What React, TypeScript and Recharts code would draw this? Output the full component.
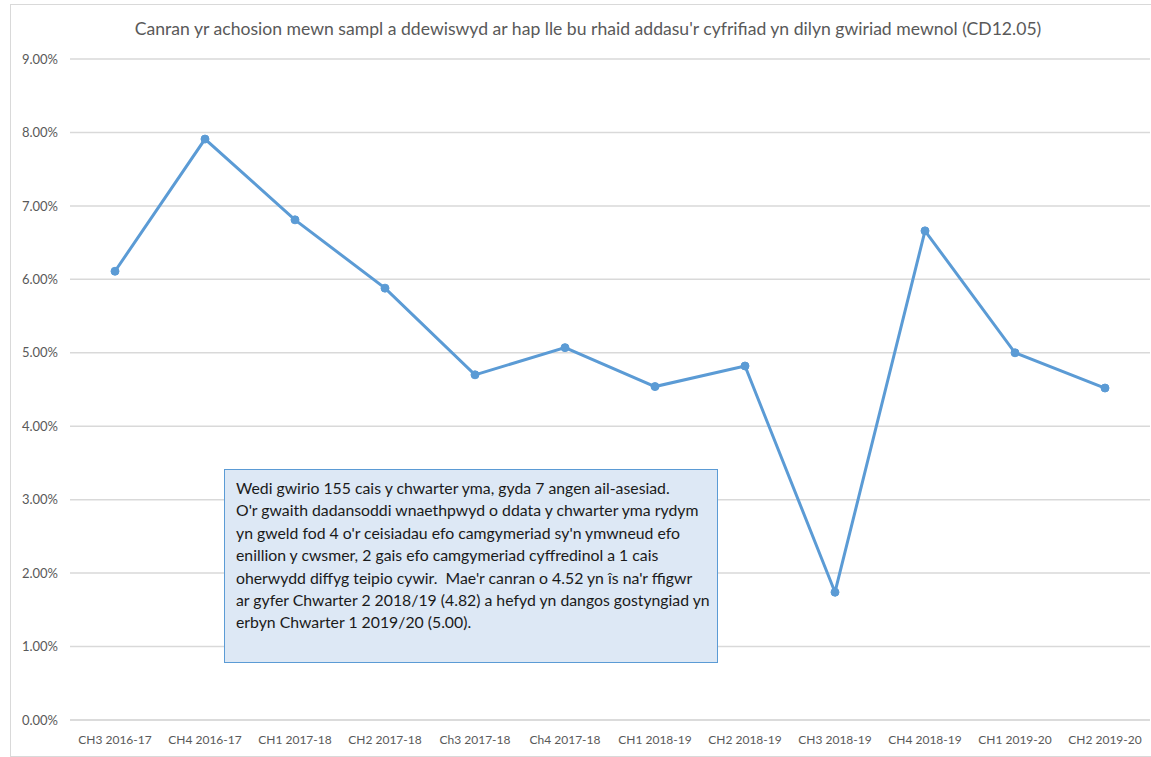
import { CartesianGrid, Line, LineChart, XAxis, YAxis } from "recharts";

const QUARTERS = [
  "CH3 2016-17",
  "CH4 2016-17",
  "CH1 2017-18",
  "CH2 2017-18",
  "Ch3 2017-18",
  "Ch4 2017-18",
  "CH1 2018-19",
  "CH2 2018-19",
  "CH3 2018-19",
  "CH4 2018-19",
  "CH1 2019-20",
  "CH2 2019-20",
];
// percent of sampled cases that needed the figure adjusting
const ADJUSTED_PCT = [6.11, 7.91, 6.81, 5.88, 4.7, 5.07, 4.54, 4.82, 1.74, 6.66, 5.0, 4.52];
const Y_TICKS = [0, 1, 2, 3, 4, 5, 6, 7, 8, 9];

const TITLE =
  "Canran yr achosion mewn sampl a ddewiswyd ar hap lle bu rhaid addasu'r cyfrifiad yn dilyn gwiriad mewnol (CD12.05)";
const NOTE_LINES = [
  "Wedi gwirio 155 cais y chwarter yma, gyda 7 angen ail-asesiad.",
  "O'r gwaith dadansoddi wnaethpwyd o ddata y chwarter yma rydym",
  "yn gweld fod 4 o'r ceisiadau efo camgymeriad sy'n ymwneud efo",
  "enillion y cwsmer, 2 gais efo camgymeriad cyffredinol a 1 cais",
  "oherwydd diffyg teipio cywir.  Mae'r canran o 4.52 yn îs na'r ffigwr",
  "ar gyfer Chwarter 2 2018/19 (4.82) a hefyd yn dangos gostyngiad yn",
  "erbyn Chwarter 1 2019/20 (5.00).",
];

const LINE_BLUE = "#5b9bd5";
const MUTED = "#595959";
const GRID = "#d9d9d9";
const FONT = "Lato, 'Noto Sans', sans-serif";

const data = QUARTERS.map((q, i) => ({ q, pct: ADJUSTED_PCT[i] }));

export default function App() {
  return (
    <div
      style={{
        position: "absolute",
        left: 0,
        top: 0,
        width: 1151,
        height: 757,
        overflow: "hidden",
        background: "#fff",
        fontFamily: FONT,
      }}
    >
      <div
        style={{
          position: "absolute",
          left: 10,
          top: 4,
          width: 1150,
          height: 751,
          border: `1px solid ${GRID}`,
        }}
      />
      <div
        style={{
          position: "absolute",
          left: 0,
          top: 18,
          width: 1176,
          textAlign: "center",
          fontSize: 17.6,
          color: MUTED,
          whiteSpace: "nowrap",
        }}
      >
        {TITLE}
      </div>
      <div style={{ position: "absolute", left: 0, top: 0 }}>
        <LineChart
          width={1151}
          height={757}
          data={data}
          margin={{ top: 59, right: 1, bottom: 0, left: 10 }}
        >
          <CartesianGrid stroke={GRID} strokeWidth={1.5} vertical={false} />
          <XAxis
            dataKey="q"
            height={37}
            padding={{ left: 45, right: 45 }}
            tickLine={false}
            axisLine={{ stroke: GRID, strokeWidth: 1.5 }}
            tick={{ fill: MUTED, fontSize: 12, fontFamily: FONT }}
            interval={0}
            tickMargin={9}
          />
          <YAxis
            width={60}
            domain={[0, 9]}
            ticks={Y_TICKS}
            tickFormatter={(v: number) => `${v.toFixed(2)}%`}
            tickLine={false}
            axisLine={false}
            tick={{ fill: MUTED, fontSize: 13, fontFamily: FONT }}
            tickMargin={6}
          />
          <Line
            dataKey="pct"
            stroke={LINE_BLUE}
            strokeWidth={3}
            dot={{ r: 4, fill: LINE_BLUE, stroke: LINE_BLUE, strokeWidth: 1 }}
            isAnimationActive={false}
          />
        </LineChart>
      </div>
      <div
        style={{
          position: "absolute",
          left: 224,
          top: 469,
          width: 494,
          height: 194,
          background: "#dde8f5",
          border: "1px solid #5b9bd5",
          padding: "7px 0 0 11px",
          boxSizing: "border-box",
          fontSize: 15.8,
          lineHeight: "22.4px",
          color: "#1a1a1a",
        }}
      >
        {NOTE_LINES.map((line) => (
          <div key={line} style={{ whiteSpace: "pre" }}>
            {line}
          </div>
        ))}
      </div>
    </div>
  );
}
